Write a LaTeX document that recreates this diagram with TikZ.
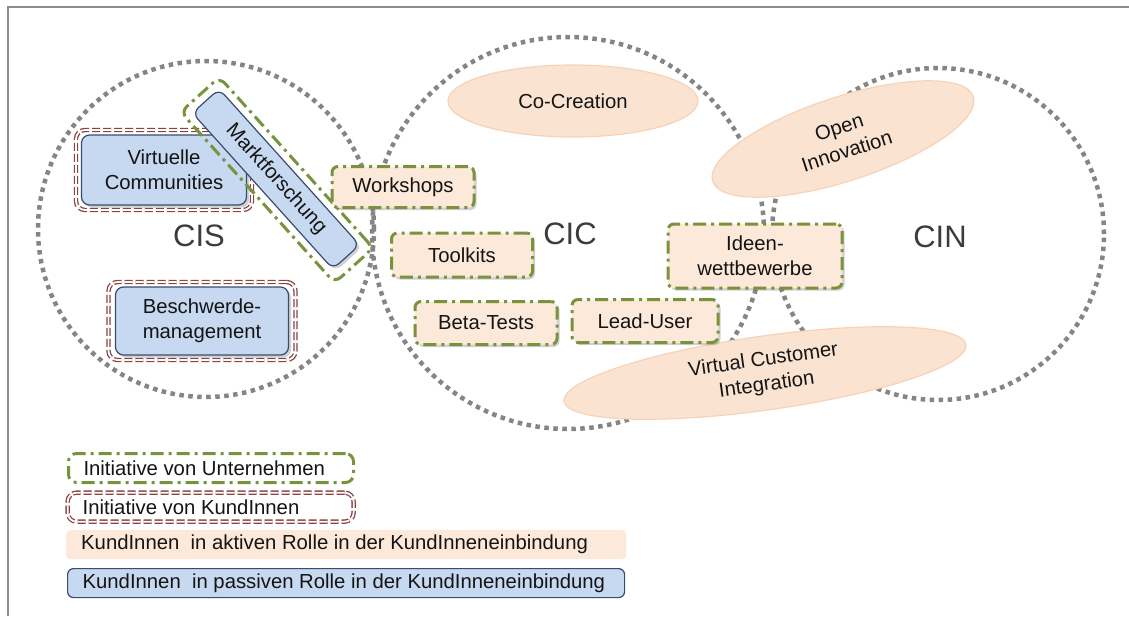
\documentclass[tikz,border=0pt]{standalone}
\usepackage{fontspec}
\setmainfont{Liberation Sans}
\usetikzlibrary{shapes.geometric,shadows}

\definecolor{ringgray}{HTML}{858585}
\definecolor{framegray}{HTML}{8C8C8C}
\definecolor{leafgreen}{HTML}{77933C}
\definecolor{wine}{HTML}{8A4242}
\definecolor{paleblue}{HTML}{C6D9F1}
\definecolor{navy}{HTML}{3A4C6C}
\definecolor{peach}{HTML}{FDE9D9}
\definecolor{peachfill}{HTML}{FBE3D1}
\definecolor{peachedge}{HTML}{F8D2B6}
\definecolor{labelgray}{HTML}{3C3C3C}
\definecolor{inktext}{HTML}{141414}

\tikzset{
  every node/.style={font=\fontsize{20.3}{25}\selectfont, text=inktext},
  ring/.style={circle, draw=ringgray, line width=4.5pt,
    dash pattern=on 4.5pt off 4.5pt, inner sep=0pt},
  ringlabel/.style={font=\fontsize{31}{34}\selectfont, text=labelgray},
  boxshadow/.style={drop shadow={shadow xshift=2.5pt, shadow yshift=-2.5pt,
    opacity=0.3, fill=black!60}},
  passive/.style={rectangle, rounded corners=8pt, fill=paleblue, draw=navy,
    line width=1.2pt, align=center, inner sep=0pt, boxshadow},
  active/.style={rectangle, rounded corners=6pt, fill=peach, draw=leafgreen,
    line width=3pt, dash pattern=on 13pt off 5pt on 3pt off 5pt,
    align=center, inner sep=0pt, boxshadow},
  customerframe/.style={rectangle, rounded corners=9pt, draw=wine,
    double=white, double distance=1.8pt, line width=1.3pt,
    dash pattern=on 8pt off 3pt, inner sep=0pt},
  companyframe/.style={rectangle, rounded corners=8pt, draw=leafgreen,
    line width=3pt, dash pattern=on 13pt off 5pt on 3pt off 5pt, inner sep=0pt},
  blob/.style={ellipse, fill=peachfill, draw=peachedge, line width=1.2pt,
    align=center, inner sep=0pt},
  legendrow/.style={anchor=north west, inner xsep=15pt,
    inner ysep=0pt, minimum height=29pt}
}
\newcommand{\legendtext}[2]{\makebox[#1][l]{#2}}

\begin{document}
\begin{tikzpicture}[x=1pt, y=-1pt]
\useasboundingbox (0,0) rectangle (1129,616);

% page frame
\draw[framegray, line width=1.5pt] (8,616) -- (8,7) -- (1129,7);

% the three dotted rings
\node[ring, minimum size=336pt] (cis) at (206,229) {};
\node[ring, minimum size=392pt] (cic) at (568,233) {};
\node[ring, minimum size=332pt] (cin) at (938,234) {};

\node[ringlabel] (cislabel) at (199,236) {CIS};
\node[ringlabel] (ciclabel) at (570,234) {CIC};
\node[ringlabel] (cinlabel) at (940,237) {CIN};

% active approaches drawn as ellipses
\node[blob, minimum width=250pt, minimum height=72pt] (cocreation) at (573,101) {Co-Creation};
\node[blob, minimum width=274pt, minimum height=84pt, rotate=18] (openinno) at (843,139) {Open\\Innovation};
\node[blob, minimum width=406pt, minimum height=74pt, rotate=8] (vci) at (765,373) {Virtual Customer\\Integration};

% passive approaches initiated by customers
\node[customerframe, minimum width=176pt, minimum height=80pt] (vcframe) at (164,170) {};
\node[passive, minimum width=165pt, minimum height=70pt] (vc) at (164,170) {Virtuelle\\Communities};

\node[customerframe, minimum width=187pt, minimum height=78pt] (bmframe) at (202,321) {};
\node[passive, minimum width=173pt, minimum height=68pt] (bm) at (202,321) {Beschwerde-\\management};

% market research, initiated by the company
\node[companyframe, minimum width=230pt, minimum height=52pt, rotate=-48] (mfframe) at (277,180) {};
\node[passive, minimum width=210pt, minimum height=36pt, rotate=-48] (mf) at (276,179) {Marktforschung};

% active approaches initiated by the company
\node[active, minimum width=142pt, minimum height=41pt] (workshops) at (403,187) {Workshops};
\node[active, minimum width=141pt, minimum height=44pt] (toolkits) at (462,255) {Toolkits};
\node[active, minimum width=142pt, minimum height=43pt] (betatests) at (486,323) {Beta-Tests};
\node[active, minimum width=146pt, minimum height=43pt] (leaduser) at (645,321) {Lead-User};
\node[active, minimum width=174pt, minimum height=64pt] (ideen) at (755,256) {Ideen-\\wettbewerbe};

% legend
\node[companyframe, legendrow] (lgcompany) at (67,452) {\legendtext{255pt}{Initiative von Unternehmen}};
\node[customerframe, legendrow] (lgcustomer) at (67,492) {\legendtext{256pt}{Initiative von KundInnen}};
\node[legendrow, fill=peach, rounded corners=4pt] (lgactive) at (66,530) {\legendtext{530pt}{KundInnen\ \ in aktiven Rolle in der KundInneneinbindung}};
\node[legendrow, fill=paleblue, draw=navy, line width=1.2pt, rounded corners=6pt] (lgpassive) at (67,568) {\legendtext{527pt}{KundInnen\ \ in passiven Rolle in der KundInneneinbindung}};
\end{tikzpicture}
\end{document}
